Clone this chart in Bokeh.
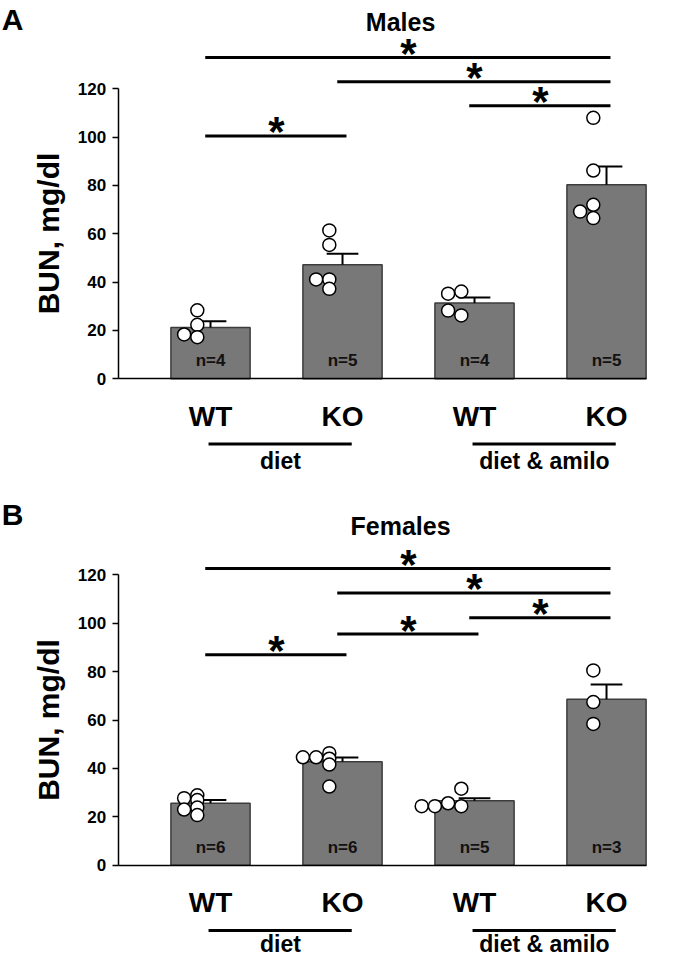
from bokeh.plotting import figure
from bokeh.models import LinearAxis, FixedTicker
from bokeh.layouts import column
from bokeh.core.properties import value
from bokeh.embed import file_html
from bokeh.resources import INLINE

# ---------------- data ----------------
genotypes = ["WT", "KO", "WT", "KO"]
treatments = ["diet", "diet & amilo"]
x_pos = [1, 2, 3, 4]
y_ticks = [0, 20, 40, 60, 80, 100, 120]

male_mean = [21.2, 47.2, 31.3, 80.3]
male_sem = [2.6, 4.5, 2.3, 7.6]
male_n = [4, 5, 4, 5]
male_points = [[28.3, 22.3, 18.3, 17.2],
               [61.4, 55.4, 41.1, 41.1, 37.2],
               [35.2, 36.1, 28.2, 26.2],
               [108.0, 86.2, 72.0, 69.2, 66.5]]
male_dot_dx = [[-0.1, -0.1, -0.2, -0.1],
               [-0.1, -0.1, -0.2, -0.1, -0.1],
               [-0.2, -0.1, -0.2, -0.1],
               [-0.1, -0.1, -0.1, -0.2, -0.1]]
male_sig = [(1, 2, 100.5), (3, 4, 113.0), (2, 4, 123.0), (1, 4, 133.0)]

female_mean = [25.6, 42.8, 26.6, 68.6]
female_sem = [1.3, 1.7, 1.1, 6.1]
female_n = [6, 6, 5, 3]
female_points = [[27.7, 28.9, 26.9, 23.0, 23.8, 20.7],
                 [44.6, 44.6, 46.3, 44.0, 41.6, 32.5],
                 [24.4, 24.4, 25.6, 24.4, 31.6],
                 [80.5, 67.4, 58.4]]
female_dot_dx = [[-0.2, -0.1, -0.1, -0.2, -0.1, -0.1],
                 [-0.3, -0.2, -0.1, -0.1, -0.1, -0.1],
                 [-0.4, -0.3, -0.2, -0.1, -0.1],
                 [-0.1, -0.1, -0.1]]
female_sig = [(1, 2, 87.0), (2, 3, 95.5), (3, 4, 102.3), (2, 4, 112.5), (1, 4, 122.6)]

# ---------------- style ----------------
FONT = value("Liberation Sans")
BAR_FILL = "#787878"
BAR_LINE = "#3c3c3c"
X0, X1 = -0.591, 4.712


def make_panel(letter, title, mean, sem, n, points, dot_dx, sig, y_lo, y_hi,
               letter_y, title_y, group_y):
    p = figure(width=700, height=478, x_range=(X0, X1), y_range=(y_lo, y_hi),
               output_backend="svg", toolbar_location=None, min_border=0,
               x_axis_type=None, y_axis_type=None)
    p.outline_line_color = None
    p.background_fill_color = "white"

    # y axis
    yax = LinearAxis(fixed_location=0.3, bounds=(0, 120),
                     ticker=FixedTicker(ticks=y_ticks),
                     axis_label="BUN, mg/dl")
    yax.axis_line_width = 1.5
    yax.axis_line_color = "black"
    yax.major_tick_out = 6
    yax.major_tick_in = 0
    yax.major_tick_line_width = 1.5
    yax.minor_tick_out = 0
    yax.minor_tick_in = 0
    yax.major_label_text_font = "Liberation Sans"
    yax.major_label_text_font_style = "bold"
    yax.major_label_text_font_size = "17px"
    yax.major_label_text_color = "black"
    yax.major_label_standoff = 6
    yax.axis_label_text_font = "Liberation Sans"
    yax.axis_label_text_font_style = "bold"
    yax.axis_label_text_font_size = "30px"
    yax.axis_label_text_color = "black"
    yax.axis_label_standoff = 10
    p.add_layout(yax, "left")

    # x axis
    xax = LinearAxis(fixed_location=0, bounds=(0.3, 4.3),
                     ticker=FixedTicker(ticks=x_pos),
                     major_label_overrides={x: g for x, g in zip(x_pos, genotypes)})
    xax.axis_line_width = 1.5
    xax.axis_line_color = "black"
    xax.major_tick_out = 0
    xax.major_tick_in = 0
    xax.minor_tick_out = 0
    xax.minor_tick_in = 0
    xax.major_label_text_font = "Liberation Sans"
    xax.major_label_text_font_style = "bold"
    xax.major_label_text_font_size = "28px"
    xax.major_label_text_color = "black"
    xax.major_label_standoff = 22
    p.add_layout(xax, "below")

    # bars
    p.vbar(x=x_pos, top=mean, bottom=0, width=0.6, fill_color=BAR_FILL,
           line_color=BAR_LINE, line_width=1.5)

    # error bars
    tops = [m + s for m, s in zip(mean, sem)]
    p.segment(x0=x_pos, y0=mean, x1=x_pos, y1=tops, line_color="black", line_width=2)
    p.segment(x0=[x - 0.12 for x in x_pos], y0=tops, x1=[x + 0.12 for x in x_pos],
              y1=tops, line_color="black", line_width=2)

    # individual points
    px, py = [], []
    for x, vals, dxs in zip(x_pos, points, dot_dx):
        for v, d in zip(vals, dxs):
            px.append(x + d)
            py.append(v)
    p.scatter(x=px, y=py, size=13, fill_color="white", line_color="black",
              line_width=1.5)

    # n labels
    p.text(x=x_pos, y=[7.5] * len(x_pos), text=[f"n={k}" for k in n],
           text_align="center", text_baseline="middle", text_font=FONT,
           text_font_style="bold", text_font_size=value("17px"), text_color="#111111")

    # significance lines and stars
    p.segment(x0=[a - 0.04 for a, b, y in sig], x1=[b + 0.03 for a, b, y in sig],
              y0=[y for a, b, y in sig], y1=[y for a, b, y in sig],
              line_color="black", line_width=3)
    p.text(x=[(a + b) / 2 for a, b, y in sig], y=[y for a, b, y in sig],
           text=["*"] * len(sig), text_align="center", text_baseline="alphabetic",
           y_offset=-4, text_font=FONT, text_font_style="bold",
           text_font_size=value("42px"), text_color="black")

    # treatment group underline + labels
    p.segment(x0=[x_pos[0] - 0.015, x_pos[2] - 0.015], x1=[x_pos[1] + 0.07, x_pos[3] + 0.07],
              y0=[-27.0, -27.0], y1=[-27.0, -27.0], line_color="black", line_width=3)
    p.text(x=[(x_pos[0] + x_pos[1]) / 2 + 0.03, (x_pos[2] + x_pos[3]) / 2 + 0.03],
           y=[group_y, group_y], text=treatments, text_align="center",
           text_baseline="middle", text_font=FONT, text_font_style="bold",
           text_font_size=value("23px"), text_color="black")

    # title and panel letter
    p.text(x=[2.44], y=[title_y], text=[title], text_align="center",
           text_baseline="middle", text_font=FONT, text_font_style="bold",
           text_font_size=value("25px"), text_color="black")
    p.text(x=[X0 + 0.01], y=[letter_y], text=[letter], text_align="left",
           text_baseline="middle", text_font=FONT, text_font_style="bold",
           text_font_size=value("30px"), text_color="black")
    return p


p1 = make_panel("A", "Males", male_mean, male_sem, male_n, male_points, male_dot_dx,
                male_sig, -41.33, 156.6, 148.6, 147.9, -33.9)
p2 = make_panel("B", "Females", female_mean, female_sem, female_n, female_points,
                female_dot_dx, female_sig, -37.73, 159.8, 144.9, 140.0, -32.4)

layout = column(p1, p2, spacing=0)
open("out.html", "w").write(file_html(layout, INLINE))
